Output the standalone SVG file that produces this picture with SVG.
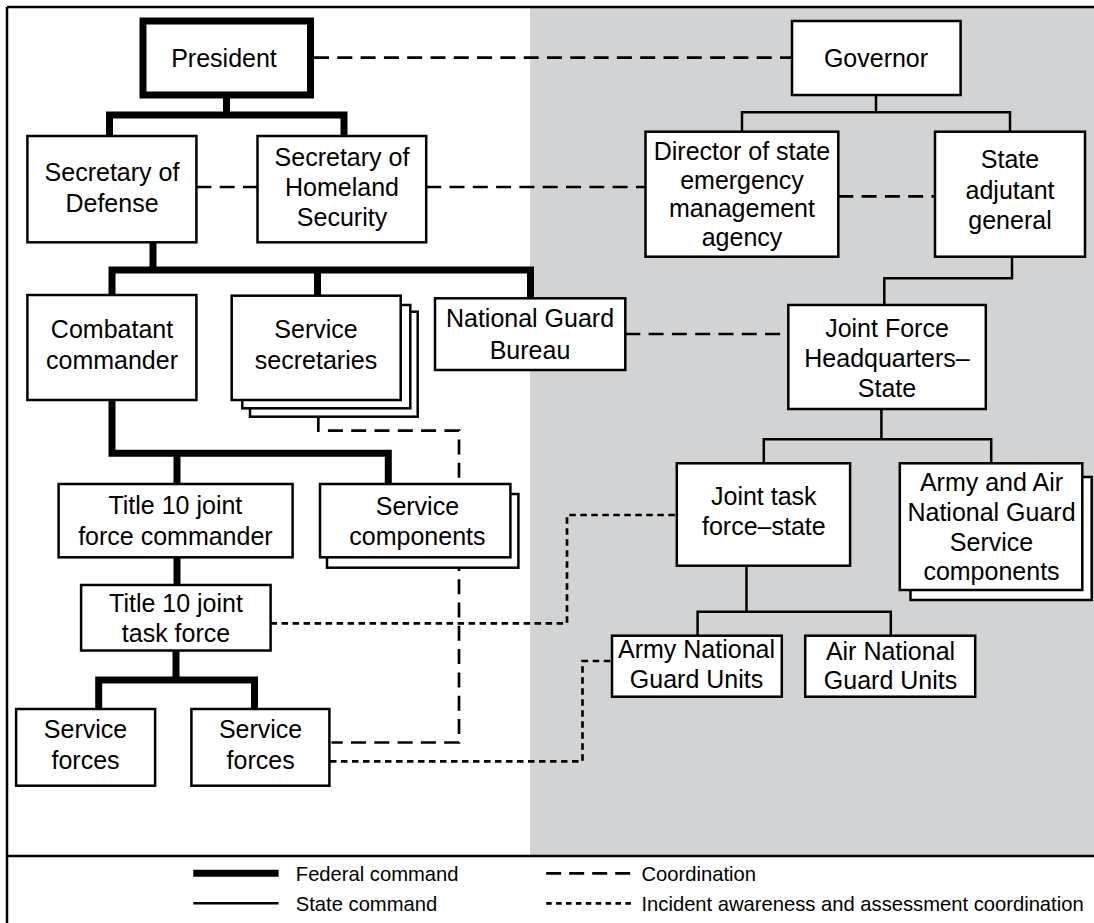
<svg xmlns="http://www.w3.org/2000/svg" width="1094" height="923" viewBox="0 0 1094 923">
<style>
.bg{fill:#ffffff}
.gray{fill:#d1d3d4}
.box{fill:#ffffff;stroke:#000;stroke-width:2.5}
.pres{fill:#ffffff;stroke:#000;stroke-width:7}
.t{font-family:"Liberation Sans",Arial,sans-serif;font-size:25px;fill:#000;text-anchor:middle}
.lt{font-family:"Liberation Sans",Arial,sans-serif;font-size:20.2px;fill:#000}
.fed{fill:none;stroke:#000;stroke-width:7;stroke-linejoin:miter;stroke-linecap:butt}
.state{fill:none;stroke:#000;stroke-width:2.5;stroke-linejoin:miter}
.coord{fill:none;stroke:#000;stroke-width:2.7;stroke-dasharray:15 8.3}
.iaa{fill:none;stroke:#000;stroke-width:2.7;stroke-dasharray:6.5 4.5}
.frame{fill:none;stroke:#000;stroke-width:2.5}
</style>
<rect class="bg" x="0" y="0" width="1094" height="923"/>
<rect class="gray" x="530" y="7" width="564" height="849"/>
<g id="frame">
<path class="frame" d="M7,7 H1094 M7,7 V923 M7,856 H1094"/>
</g>
<g id="connectors">
<path class="fed" d="M226.5,98 V115"/>
<path class="fed" d="M109.5,136 V115 H344 V136"/>
<path class="fed" d="M153,242 V270"/>
<path class="fed" d="M112,295 V270 H530.5 V298"/>
<path class="fed" d="M317.5,270 V295"/>
<path class="fed" d="M112,400 V453.3 H388.3 V484"/>
<path class="fed" d="M177,453.3 V484"/>
<path class="fed" d="M177,557 V585"/>
<path class="fed" d="M176,651 V680"/>
<path class="fed" d="M98.7,709 V680 H254.5 V709"/>
<path class="state" d="M876,95 V112.3"/>
<path class="state" d="M742,131.7 V112.3 H1010 V131.7"/>
<path class="state" d="M1012,257 V278.3 H884.3 V305"/>
<path class="state" d="M881.4,409 V439.3"/>
<path class="state" d="M763.8,463.3 V439.3 H991.2 V463.3"/>
<path class="state" d="M746.5,565.7 V611.7"/>
<path class="state" d="M697.6,635.7 V611.7 H890.8 V635.7"/>
<path class="coord" d="M314,57.7 H792"/>
<path class="coord" d="M196.4,187 H257.5"/>
<path class="coord" d="M426.2,187 H645.5"/>
<path class="coord" d="M838.3,196.3 H935"/>
<path class="coord" d="M625.3,334 H788.3"/>
<path class="coord" d="M318.3,417 V430.7 H459 V742.5 H331.5"/>
<path class="iaa" d="M270.6,623.3 H567 V515 H676.8"/>
<path class="iaa" d="M330,761.3 H582.5 V661 H612"/>
</g>
<g id="president">
<rect class="pres" x="143" y="21" width="167.5" height="74"/>
<text class="t" x="224" y="67.3">President</text>
</g>
<g id="governor">
<rect class="box" x="792" y="21" width="168.6" height="74"/>
<text class="t" x="876" y="66.7">Governor</text>
</g>
<g id="secdef">
<rect class="box" x="27.4" y="136" width="169" height="106.3"/>
<text class="t" x="112" y="181">Secretary of</text>
<text class="t" x="112" y="211.7">Defense</text>
</g>
<g id="sechs">
<rect class="box" x="257.5" y="136" width="168.7" height="106.3"/>
<text class="t" x="342" y="165.7">Secretary of</text>
<text class="t" x="342" y="195.7">Homeland</text>
<text class="t" x="342" y="226">Security</text>
</g>
<g id="director">
<rect class="box" x="645.5" y="131.7" width="192.8" height="125"/>
<text class="t" x="742" y="160">Director of state</text>
<text class="t" x="742" y="188.5">emergency</text>
<text class="t" x="742" y="217">management</text>
<text class="t" x="742" y="245.5">agency</text>
</g>
<g id="sag">
<rect class="box" x="935" y="131.7" width="150" height="125"/>
<text class="t" x="1010" y="168">State</text>
<text class="t" x="1010" y="198.5">adjutant</text>
<text class="t" x="1010" y="229">general</text>
</g>
<g id="combatant">
<rect class="box" x="27.4" y="295" width="169" height="105"/>
<text class="t" x="112" y="338.3">Combatant</text>
<text class="t" x="112" y="368.7">commander</text>
</g>
<g id="servicesecretaries">
<rect class="box" x="250" y="311.7" width="167.7" height="105"/>
<rect class="box" x="242.3" y="305" width="168" height="103.3"/>
<rect class="box" x="231.7" y="295.7" width="169" height="104.3"/>
<text class="t" x="316" y="338.3">Service</text>
<text class="t" x="316" y="368.7">secretaries</text>
</g>
<g id="ngb">
<rect class="box" x="435" y="298.3" width="190.3" height="71.7"/>
<text class="t" x="530" y="326.7">National Guard</text>
<text class="t" x="530" y="358.7">Bureau</text>
</g>
<g id="jfhq">
<rect class="box" x="788.3" y="305" width="197.5" height="104"/>
<text class="t" x="887" y="336.7">Joint Force</text>
<text class="t" x="887" y="366.7">Headquarters–</text>
<text class="t" x="887" y="396.7">State</text>
</g>
<g id="t10jfc">
<rect class="box" x="58.6" y="484" width="234" height="73.3"/>
<text class="t" x="175.4" y="514.3">Title 10 joint</text>
<text class="t" x="175.4" y="545">force commander</text>
</g>
<g id="servicecomponents">
<rect class="box" x="327" y="494" width="191.4" height="73.7"/>
<rect class="box" x="320" y="484" width="190.4" height="73.3"/>
<text class="t" x="417.4" y="515">Service</text>
<text class="t" x="417.4" y="545">components</text>
</g>
<g id="jtfstate">
<rect class="box" x="676.8" y="463.3" width="173.3" height="102.4"/>
<text class="t" x="763.8" y="505">Joint task</text>
<text class="t" x="763.8" y="535">force–state</text>
</g>
<g id="armyairng">
<rect class="box" x="910.5" y="477" width="181.2" height="123"/>
<rect class="box" x="899.8" y="463.3" width="182.5" height="126.7"/>
<text class="t" x="991.5" y="490.7">Army and Air</text>
<text class="t" x="991.5" y="520.7">National Guard</text>
<text class="t" x="991.5" y="550.7">Service</text>
<text class="t" x="991.5" y="580">components</text>
</g>
<g id="t10jtf">
<rect class="box" x="81.1" y="585" width="189.5" height="65.5"/>
<text class="t" x="176" y="611.7">Title 10 joint</text>
<text class="t" x="176" y="641.7">task force</text>
</g>
<g id="serviceforces1">
<rect class="box" x="16.1" y="709" width="139" height="76.7"/>
<text class="t" x="85.5" y="738.3">Service</text>
<text class="t" x="85.5" y="769">forces</text>
</g>
<g id="serviceforces2">
<rect class="box" x="191.4" y="709" width="138" height="76.7"/>
<text class="t" x="260.6" y="738.3">Service</text>
<text class="t" x="260.6" y="769">forces</text>
</g>
<g id="armyng">
<rect class="box" x="612" y="635.7" width="169.8" height="61"/>
<text class="t" x="696.5" y="657.7">Army National</text>
<text class="t" x="696.5" y="687.7">Guard Units</text>
</g>
<g id="airng">
<rect class="box" x="805.2" y="635.7" width="170" height="61"/>
<text class="t" x="890.5" y="660">Air National</text>
<text class="t" x="890.5" y="689.3">Guard Units</text>
</g>
<g id="legend">
<path class="fed" d="M193.3,873.3 H278.6"/>
<path class="state" d="M193.3,903.3 H278.6"/>
<text class="lt" x="295.8" y="880.7">Federal command</text>
<text class="lt" x="295.8" y="910.7">State command</text>
<path class="coord" d="M546.2,873.3 H631.8" style="stroke-dasharray:15 8"/>
<path class="iaa" d="M546.2,903.3 H631.8" style="stroke-dasharray:5.5 4.4"/>
<text class="lt" x="641.5" y="880.7">Coordination</text>
<text class="lt" x="641.5" y="910.7">Incident awareness and assessment coordination</text>
</g>
</svg>
